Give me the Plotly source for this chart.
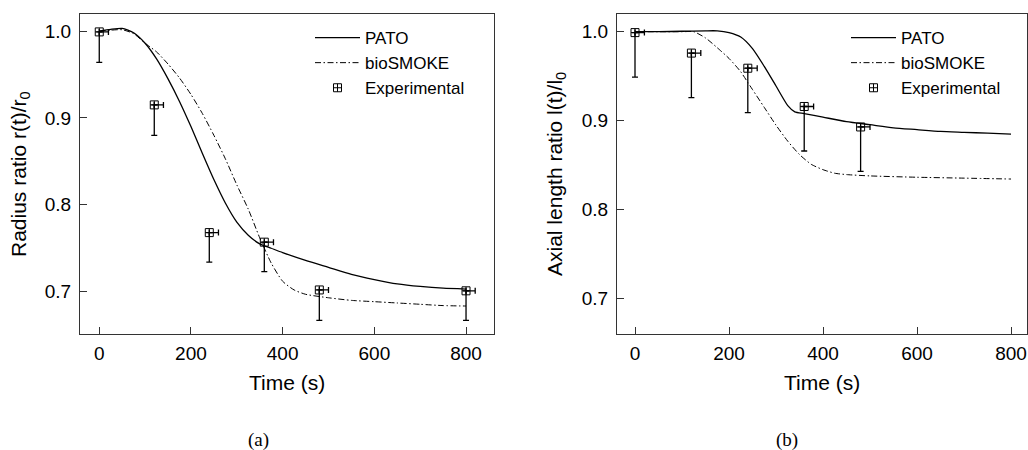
import plotly.graph_objects as go

# ---------------- data: (a) radius ratio ----------------
t_pato_a = [0, 25, 50, 75, 100, 125, 150, 175, 200, 225, 250, 275, 300, 325, 350, 375, 400,
            450, 500, 550, 600, 650, 700, 750, 800]
r_pato = [1.000, 1.002, 1.003, 0.998, 0.986, 0.968, 0.945, 0.919, 0.890, 0.859, 0.829, 0.802,
          0.780, 0.765, 0.755, 0.750, 0.745, 0.736, 0.728, 0.720, 0.714, 0.709, 0.706, 0.704, 0.703]

t_bio_a = [0, 25, 50, 75, 100, 125, 150, 175, 200, 225, 250, 275, 300, 325, 350, 375, 400,
           425, 450, 500, 550, 600, 650, 700, 750, 800]
r_bio = [1.000, 1.001, 1.0015, 0.997, 0.986, 0.976, 0.962, 0.946, 0.927, 0.905, 0.880, 0.853,
         0.823, 0.795, 0.762, 0.733, 0.712, 0.702, 0.697, 0.693, 0.690, 0.6885, 0.687, 0.6855,
         0.684, 0.6835]

t_exp_a = [0, 120, 240, 360, 480, 800]
r_exp = [0.999, 0.915, 0.768, 0.757, 0.702, 0.701]
r_err_minus = [0.035, 0.035, 0.034, 0.034, 0.035, 0.034]

# ---------------- data: (b) axial length ratio ----------------
t_pato_b = [0, 50, 100, 150, 175, 200, 225, 250, 275, 300, 325, 340, 360, 400, 450, 500, 550,
            600, 650, 700, 750, 800]
l_pato = [1.000, 1.000, 1.0005, 1.001, 1.001, 0.999, 0.994, 0.981, 0.961, 0.939, 0.917, 0.910,
          0.908, 0.904, 0.899, 0.8955, 0.892, 0.890, 0.888, 0.887, 0.886, 0.885]

t_bio_b = [0, 50, 100, 125, 150, 175, 200, 225, 240, 250, 275, 300, 325, 350, 375, 400, 425,
           450, 500, 600, 700, 800]
l_bio = [1.000, 1.000, 1.000, 1.000, 0.993, 0.982, 0.970, 0.955, 0.943, 0.935, 0.915, 0.895,
         0.877, 0.862, 0.851, 0.845, 0.841, 0.8395, 0.838, 0.8365, 0.8355, 0.8345]

t_exp_b = [0, 120, 240, 360, 480]
l_exp = [0.999, 0.976, 0.959, 0.916, 0.893]
l_err_minus = [0.05, 0.05, 0.05, 0.05, 0.05]

t_err_plus = 20  # horizontal error (s)

xticks = [0, 200, 400, 600, 800]
yticks = [0.7, 0.8, 0.9, 1.0]

FONT = "Liberation Sans"
W, H = 1028, 450

fig = go.Figure()


def add_panel(xa, ya, legend, tp, vp, tb, vb, te, ve, vem):
    fig.add_trace(go.Scatter(
        x=tp, y=vp, mode="lines", name="PATO", xaxis=xa, yaxis=ya, legend=legend,
        line=dict(color="black", width=1.3, shape="spline", smoothing=0.6)))
    fig.add_trace(go.Scatter(
        x=tb, y=vb, mode="lines", name="bioSMOKE", xaxis=xa, yaxis=ya, legend=legend,
        line=dict(color="black", width=1.0, dash="6px,2.5px,1.5px,2.5px",
                  shape="spline", smoothing=0.6)))
    fig.add_trace(go.Scatter(
        x=te, y=ve, mode="markers", name="Experimental", xaxis=xa, yaxis=ya, legend=legend,
        marker=dict(symbol="square-cross-open", size=8, color="black",
                    line=dict(color="black", width=1)),
        error_y=dict(type="data", symmetric=False, array=[0] * len(te), arrayminus=vem,
                     color="black", thickness=1.3, width=3),
        error_x=dict(type="data", symmetric=False, array=[t_err_plus] * len(te),
                     arrayminus=[0] * len(te), color="black", thickness=1.3, width=3)))


add_panel("x", "y", "legend", t_pato_a, r_pato, t_bio_a, r_bio, t_exp_a, r_exp, r_err_minus)
add_panel("x2", "y2", "legend2", t_pato_b, l_pato, t_bio_b, l_bio, t_exp_b, l_exp, l_err_minus)

axis_common = dict(
    showline=True, linecolor="#333333", linewidth=1.2, mirror=True,
    ticks="inside", ticklen=7, tickwidth=1.2, tickcolor="#333333",
    showgrid=False, zeroline=False, automargin=False,
    tickfont=dict(family=FONT, size=19, color="black"),
)

legend_common = dict(xanchor="left", yanchor="top", bgcolor="rgba(0,0,0,0)", itemwidth=45,
                     font=dict(family=FONT, size=17, color="black"))

fig.update_layout(
    width=W, height=H,
    margin=dict(l=0, r=0, t=0, b=0),
    paper_bgcolor="white", plot_bgcolor="white",
    font=dict(family=FONT, color="black"),
    xaxis=dict(domain=[80 / W, 494 / W], range=[-42, 861], tickvals=xticks, anchor="y",
               ticklabelstandoff=2, **axis_common),
    yaxis=dict(domain=[1 - 334 / H, 1 - 14 / H], range=[0.6513, 1.0196], tickvals=yticks,
               tickformat=".1f", anchor="x", ticklabelstandoff=4, **axis_common),
    xaxis2=dict(domain=[617 / W, 1027 / W], range=[-38.3, 834], tickvals=xticks, anchor="y2",
                ticklabelstandoff=2, **axis_common),
    yaxis2=dict(domain=[1 - 334 / H, 1 - 14 / H], range=[0.6604, 1.0199], tickvals=yticks,
                tickformat=".1f", anchor="x2", ticklabelstandoff=4, **axis_common),
    legend=dict(x=310 / W, y=1 - 20 / H, **legend_common),
    legend2=dict(x=846 / W, y=1 - 20 / H, **legend_common),
    showlegend=True,
)

ann_font = dict(family=FONT, size=21, color="black")
annotations = [
    dict(text="Time (s)", x=287 / W, y=1 - 382 / H, xref="paper", yref="paper",
         showarrow=False, font=ann_font, xanchor="center", yanchor="middle"),
    dict(text="Time (s)", x=822 / W, y=1 - 382 / H, xref="paper", yref="paper",
         showarrow=False, font=ann_font, xanchor="center", yanchor="middle"),
    dict(text="Radius ratio r(t)/r<sub>0</sub>", x=20 / W, y=1 - 174 / H, xref="paper",
         yref="paper", showarrow=False, font=ann_font, textangle=-90,
         xanchor="center", yanchor="middle"),
    dict(text="Axial length ratio l(t)/l<sub>0</sub>", x=556 / W, y=1 - 174 / H,
         xref="paper", yref="paper", showarrow=False, font=ann_font, textangle=-90,
         xanchor="center", yanchor="middle"),
    dict(text="(a)", x=258 / W, y=1 - 440 / H, xref="paper", yref="paper", showarrow=False,
         font=dict(family="Liberation Serif", size=19, color="black"),
         xanchor="center", yanchor="middle"),
    dict(text="(b)", x=787 / W, y=1 - 440 / H, xref="paper", yref="paper", showarrow=False,
         font=dict(family="Liberation Serif", size=19, color="black"),
         xanchor="center", yanchor="middle"),
]
fig.update_layout(annotations=annotations)

fig.write_html("out.html")
